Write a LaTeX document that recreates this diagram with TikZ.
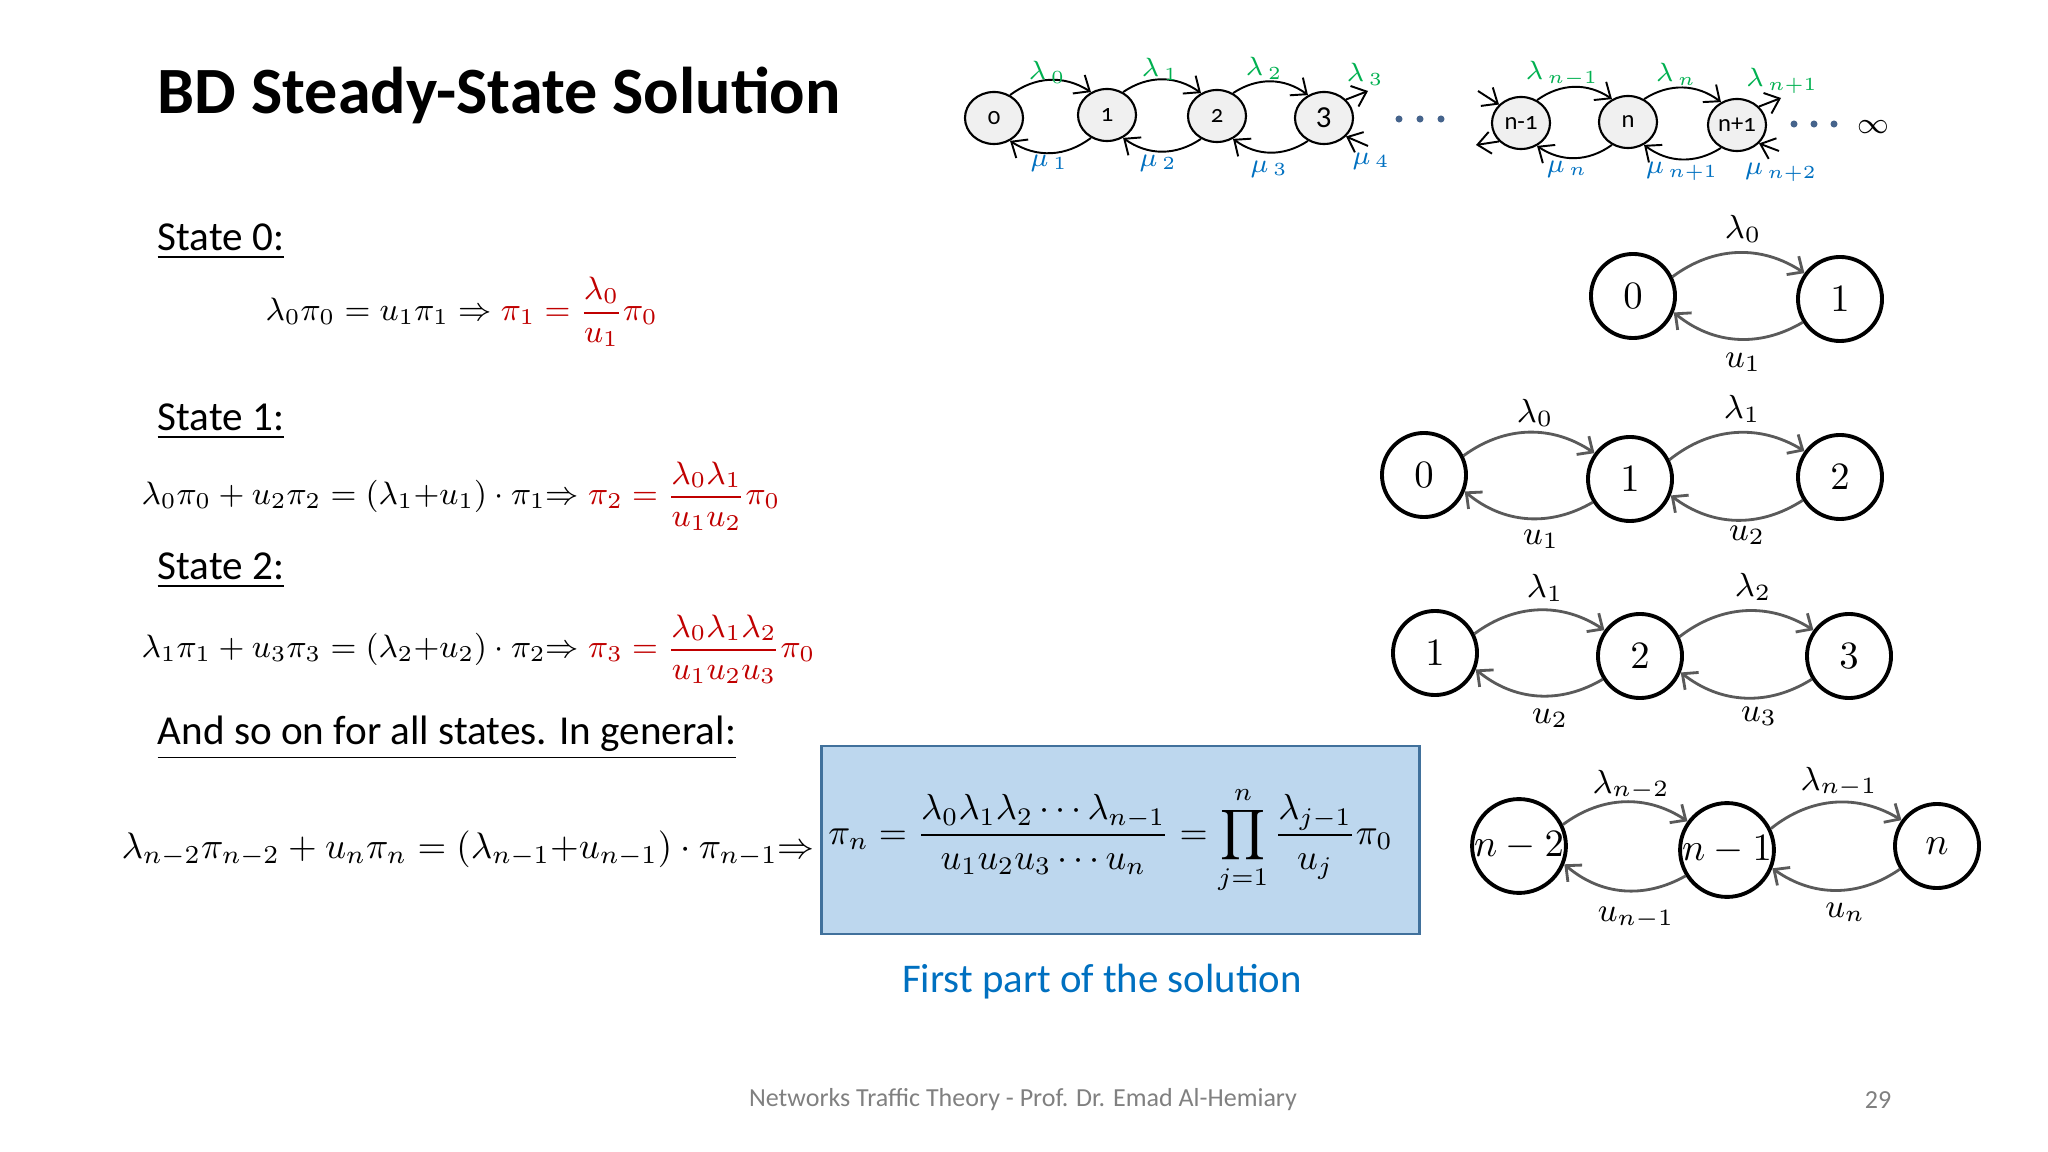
\RequirePackage{fix-cm}
\documentclass[tikz,border=0pt]{standalone}
\usepackage{amsmath}
\usepackage{fontspec}
\setmainfont{Carlito}
\usetikzlibrary{arrows.meta,shapes.geometric}

\definecolor{lamgreen}{RGB}{0,176,80}
\definecolor{mublue}{RGB}{0,112,192}
\definecolor{solred}{RGB}{192,0,0}
\definecolor{boxfill}{RGB}{189,215,238}
\definecolor{boxline}{RGB}{65,113,156}
\definecolor{arcgray}{RGB}{90,90,90}
\definecolor{footgray}{RGB}{128,128,128}
\definecolor{dotblue}{RGB}{70,100,140}

\begin{document}
\begin{tikzpicture}[
    x=0.01cm, y=0.01cm,
    font=\fontsize{11.6}{14}\selectfont,
    chainstate/.style={
        ellipse,
        draw=black,
        line width=0.6pt,
        fill=gray!12,
        minimum width=0.58cm,
        minimum height=0.52cm,
        inner sep=0pt,
        font=\fontsize{7}{8}\selectfont\addfontfeatures{Numbers=OldStyle}
    },
    state/.style={
        circle,
        draw=black,
        line width=1.1pt,
        minimum size=0.84cm,
        inner sep=0pt,
        font=\fontsize{11}{12}\selectfont
    },
    chainflow/.style={-{Straight Barb[length=1.3mm,width=2.2mm]}, line width=0.55pt},
    flow/.style={-{Straight Barb[length=1.2mm,width=2.2mm]}, draw=arcgray, line width=0.8pt},
    lam/.style={text=lamgreen, font=\fontsize{7.5}{8}\selectfont},
    mu/.style={text=mublue, font=\fontsize{7.5}{8}\selectfont},
    rate/.style={font=\fontsize{9.5}{10}\selectfont},
    heading/.style={anchor=west, inner sep=0pt, font=\fontsize{11.7}{14}\selectfont},
    eqn/.style={anchor=west, inner sep=0pt, font=\fontsize{9.2}{11}\selectfont}
]
\useasboundingbox (0,0) rectangle (2048,-1152);

% title
\node[anchor=west, inner sep=0pt, font=\fontsize{18.8}{22}\selectfont\bfseries] (title) at (157,-95) {BD Steady-State Solution};

% birth-death chain
\node[chainstate] (s0) at (994,-118) {0};
\node[chainstate] (s1) at (1107,-115) {1};
\node[chainstate] (s2) at (1217,-116) {2};
\node[chainstate] (s3) at (1324,-118) {\fontsize{9}{10}\selectfont 3};
\node[chainstate] (snm) at (1521,-123) {n-1};
\node[chainstate] (sn) at (1628,-122) {n};
\node[chainstate] (snp) at (1737,-125) {n+1};

\draw[chainflow] (s0.55) to[bend left=35] (s1.125);
\draw[chainflow] (s1.-125) to[bend left=35] (s0.-55);
\draw[chainflow] (s1.55) to[bend left=35] (s2.125);
\draw[chainflow] (s2.-125) to[bend left=35] (s1.-55);
\draw[chainflow] (s2.55) to[bend left=35] (s3.125);
\draw[chainflow] (s3.-125) to[bend left=35] (s2.-55);
\draw[chainflow] (snm.55) to[bend left=35] (sn.125);
\draw[chainflow] (sn.-125) to[bend left=35] (snm.-55);
\draw[chainflow] (sn.55) to[bend left=35] (snp.125);
\draw[chainflow] (snp.-125) to[bend left=35] (sn.-55);

\coordinate (l3end) at (1368,-91);
\coordinate (m4start) at (1368,-146);
\coordinate (lnmstart) at (1478,-91);
\coordinate (mnmend) at (1476,-145);
\coordinate (lnpend) at (1781,-98);
\coordinate (mnpstart) at (1779,-151);
\draw[chainflow] (s3.40) -- (l3end);
\draw[chainflow] (m4start) -- (s3.-40);
\draw[chainflow] (lnmstart) -- (snm.140);
\draw[chainflow] (snm.-140) -- (mnmend);
\draw[chainflow] (snp.40) -- (lnpend);
\draw[chainflow] (mnpstart) -- (snp.-40);

\node[lam] (tl0) at (1047,-72) {$\lambda_{\,0}$};
\node[lam] (tl1) at (1160,-69) {$\lambda_{\,1}$};
\node[lam] (tl2) at (1264,-68) {$\lambda_{\,2}$};
\node[lam] (tl3) at (1365,-74) {$\lambda_{\,3}$};
\node[lam] (tlnm) at (1562,-74) {$\lambda_{\,n-1}$};
\node[lam] (tln) at (1676,-74) {$\lambda_{\,n}$};
\node[lam] (tlnp) at (1782,-81) {$\lambda_{\,n+1}$};
\node[mu] (tm1) at (1049,-163) {$\mu_{\,1}$};
\node[mu] (tm2) at (1158,-163) {$\mu_{\,2}$};
\node[mu] (tm3) at (1269,-169) {$\mu_{\,3}$};
\node[mu] (tm4) at (1371,-161) {$\mu_{\,4}$};
\node[mu] (tmn) at (1567,-169) {$\mu_{\,n}$};
\node[mu] (tmnp) at (1682,-171) {$\mu_{\,n+1}$};
\node[mu] (tmnpp) at (1781,-172) {$\mu_{\,n+2}$};

\fill[dotblue] (1399,-119) circle (1pt) (1420,-119) circle (1pt) (1441,-119) circle (1pt);
\fill[dotblue] (1794,-124) circle (1pt) (1814,-124) circle (1pt) (1834,-124) circle (1pt);
\node[font=\fontsize{8.5}{10}\selectfont] (inf) at (1873,-127) {$\infty$};

% state 0 picture
\node[state] (a0) at (1633,-296) {$0$};
\node[state] (a1) at (1840,-299) {$1$};
\draw[flow] (a0.26) to[bend left=35] (a1.144);
\draw[flow] (a1.-148) to[bend left=35] (a0.-22);
\node[rate] (al0) at (1743,-229) {$\lambda_0$};
\node[rate] (au1) at (1743,-362) {$u_1$};

% state 1 picture
\node[state] (b0) at (1424,-475) {$0$};
\node[state] (b1) at (1630,-479) {$1$};
\node[state] (b2) at (1840,-477) {$2$};
\draw[flow] (b0.26) to[bend left=35] (b1.144);
\draw[flow] (b1.-148) to[bend left=35] (b0.-22);
\draw[flow] (b1.26) to[bend left=35] (b2.144);
\draw[flow] (b2.-148) to[bend left=35] (b1.-22);
\node[rate] (bl0) at (1535,-413) {$\lambda_0$};
\node[rate] (bl1) at (1742,-409) {$\lambda_1$};
\node[rate] (bu1) at (1541,-539) {$u_1$};
\node[rate] (bu2) at (1747,-535) {$u_2$};

% state 2 picture
\node[state] (c1) at (1435,-653) {$1$};
\node[state] (c2) at (1640,-656) {$2$};
\node[state] (c3) at (1849,-656) {$3$};
\draw[flow] (c1.26) to[bend left=35] (c2.144);
\draw[flow] (c2.-148) to[bend left=35] (c1.-22);
\draw[flow] (c2.26) to[bend left=35] (c3.144);
\draw[flow] (c3.-148) to[bend left=35] (c2.-22);
\node[rate] (cl1) at (1545,-588) {$\lambda_1$};
\node[rate] (cl2) at (1753,-587) {$\lambda_2$};
\node[rate] (cu2) at (1550,-718) {$u_2$};
\node[rate] (cu3) at (1759,-716) {$u_3$};

% general picture
\node[state] (dnmm) at (1519,-846) {$n-2$};
\node[state] (dnm) at (1727,-850) {$n-1$};
\node[state] (dn) at (1937,-846) {$n$};
\draw[flow] (dnmm.26) to[bend left=35] (dnm.144);
\draw[flow] (dnm.-148) to[bend left=35] (dnmm.-22);
\draw[flow] (dnm.26) to[bend left=35] (dn.144);
\draw[flow] (dn.-148) to[bend left=35] (dnm.-22);
\node[rate] (dlnmm) at (1631,-785) {$\lambda_{n-2}$};
\node[rate] (dlnm) at (1839,-782) {$\lambda_{n-1}$};
\node[rate] (dunm) at (1636,-918) {$u_{n-1}$};
\node[rate] (dun) at (1845,-912) {$u_n$};

% balance equations
\node[heading] (h0) at (157,-242) {\underline{State 0:}};
\node[eqn] (e0) at (265,-312) {$\displaystyle \lambda_0\pi_0 = u_1\pi_1 \Rightarrow \color{solred}\pi_1 = \frac{\lambda_0}{u_1}\pi_0$};
\node[heading] (h1) at (157,-422) {\underline{State 1:}};
\node[eqn] (e1) at (141,-496) {$\displaystyle \lambda_0\pi_0 + u_2\pi_2 = (\lambda_1{+}u_1)\cdot\pi_1{\Rightarrow}\;\color{solred}\pi_2 = \frac{\lambda_0\lambda_1}{u_1u_2}\pi_0$};
\node[heading] (h2) at (157,-571) {\underline{State 2:}};
\node[eqn] (e2) at (141,-649) {$\displaystyle \lambda_1\pi_1 + u_3\pi_3 = (\lambda_2{+}u_2)\cdot\pi_2{\Rightarrow}\;\color{solred}\pi_3 = \frac{\lambda_0\lambda_1\lambda_2}{u_1u_2u_3}\pi_0$};
\node[heading] (hgen) at (157,-738) {\underline{And so on for all states. In general:}};
\node[eqn, font=\fontsize{10.5}{13}\selectfont] (egen) at (121,-849) {$\lambda_{n-2}\pi_{n-2} + u_n\pi_n = (\lambda_{n-1}{+}u_{n-1})\cdot\pi_{n-1}{\Rightarrow}$};

\node[draw=boxline, line width=0.8pt, fill=boxfill, anchor=west, inner xsep=0.07cm,
      text width=5.84cm, align=left, minimum height=1.88cm, font=\fontsize{10.3}{13}\selectfont] (solbox) at (820,-840)
    {\mbox{$\displaystyle \pi_n = \frac{\lambda_0\lambda_1\lambda_2\cdots\lambda_{n-1}}{u_1u_2u_3\cdots u_n} = \prod_{j=1}^{n}\frac{\lambda_{j-1}}{u_j}\pi_0$}};
\node[text=mublue] (solnote) at (1102,-982) {First part of the solution};

% footer
\node[text=footgray, font=\fontsize{7.4}{8}\selectfont] (footer) at (1023,-1100) {Networks Traffic Theory - Prof. Dr. Emad Al-Hemiary};
\node[text=footgray, font=\fontsize{7.4}{8}\selectfont] (pageno) at (1878,-1100) {29};

\end{tikzpicture}
\end{document}
